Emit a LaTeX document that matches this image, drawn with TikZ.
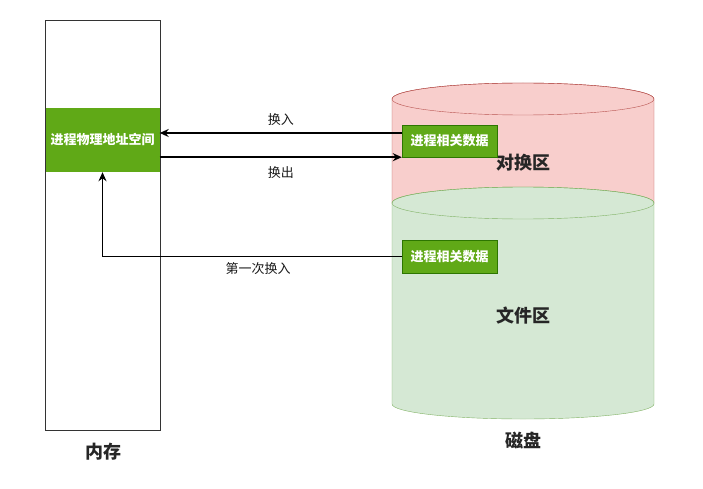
\documentclass[tikz,border=0pt]{standalone}
\usepackage{fontspec}
\setmainfont{Noto Sans CJK SC}
\usetikzlibrary{arrows.meta}
\definecolor{gfill}{HTML}{60A917}
\definecolor{gline}{HTML}{2D7600}
\definecolor{pinkfill}{HTML}{F8CECC}
\definecolor{pinkline}{HTML}{B85450}
\definecolor{lgfill}{HTML}{D5E8D4}
\definecolor{lgline}{HTML}{82B366}
\tikzset{
  greenbox/.style={draw=gline, fill=gfill, text=white, font=\bfseries\fontsize{13}{15}\selectfont, inner sep=0pt},
  arr/.style={-{Stealth[length=9pt,width=8pt]}, line width=1.5pt, black},
  lab/.style={font=\fontsize{13}{15}\selectfont, text=black!90},
  biglab/.style={font=\bfseries\fontsize{18}{21}\selectfont, text=black!85}
}
\begin{document}
\begin{tikzpicture}[x=1pt,y=-1pt]
\useasboundingbox (0,0) rectangle (703,489);
% disk cylinder: swap area
\filldraw[fill=pinkfill, draw=pinkline] (392,99) -- (392,203)
  arc[start angle=180,end angle=360,x radius=131pt,y radius=16pt] -- (654,99)
  arc[start angle=0,end angle=180,x radius=131pt,y radius=16pt] -- cycle;
\draw[pinkline] (523,99) ellipse [x radius=131pt, y radius=16pt];
% file area
\filldraw[fill=lgfill, draw=lgline] (392,203) -- (392,404)
  arc[start angle=180,end angle=360,x radius=131pt,y radius=15pt] -- (654,203)
  arc[start angle=0,end angle=180,x radius=131pt,y radius=16pt] -- cycle;
\draw[lgline] (523,203) ellipse [x radius=131pt, y radius=16pt];
\node[biglab] (swap) at (523,163) {对换区};
\node[biglab] (file) at (523,316) {文件区};
\node[biglab] (disk) at (523,440) {磁盘};
% memory
\node[draw=black!80, line width=0.9pt, minimum width=115pt, minimum height=410pt, inner sep=0pt] (mem) at (102.5,225) {};
\node[greenbox, draw=none, minimum width=114pt, minimum height=64pt] (addr) at (102.5,140) {进程物理地址空间};
\node[biglab] (memlab) at (103,452) {内存};
% data boxes
\node[greenbox, minimum width=95pt, minimum height=32pt] (box1) at (449.5,141) {进程相关数据};
\node[greenbox, minimum width=95pt, minimum height=33pt] (box2) at (449.5,256.5) {进程相关数据};
% arrows
\draw[arr] ([yshift=8pt]box1.west) -- ([yshift=8pt]box1.west -| addr.east)
  node[lab, midway, above=3pt] {换入};
\draw[arr] (box1.south west -| addr.east) -- (box1.south west)
  node[lab, midway, below=5pt] {换出};
\draw[arr] (box2.west) -| (addr.south)
  node[lab, pos=0.24, below=2pt] {第一次换入};
\end{tikzpicture}
\end{document}
